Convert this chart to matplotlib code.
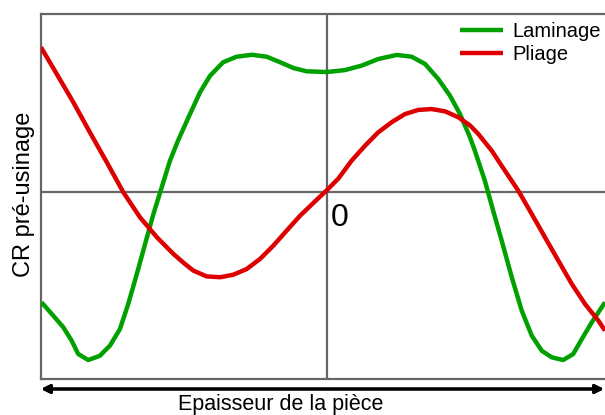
"""Sketch of residual stress (CR pre-usinage) across the part thickness."""

import matplotlib.pyplot as plt

plt.rcParams["font.family"] = ["Liberation Sans", "DejaVu Sans"]

# normalised thickness (-1 .. 1) and normalised stress
laminage_x = [-0.998, -0.957, -0.922, -0.893, -0.870, -0.835, -0.794, -0.759,
              -0.724, -0.695, -0.665, -0.636, -0.607, -0.578, -0.549, -0.520,
              -0.479, -0.444, -0.409, -0.363, -0.316, -0.263, -0.211, -0.164,
              -0.118, -0.071, 0.000, 0.063, 0.121, 0.179, 0.244, 0.296,
              0.343, 0.389, 0.430, 0.465, 0.500, 0.517, 0.552, 0.581,
              0.611, 0.646, 0.681, 0.716, 0.751, 0.786, 0.826, 0.861,
              0.891, 0.926, 0.972]
laminage_y = [-0.620, -0.695, -0.760, -0.835, -0.910, -0.944, -0.920, -0.863,
              -0.770, -0.629, -0.461, -0.292, -0.124, 0.026, 0.176, 0.292,
              0.438, 0.560, 0.653, 0.729, 0.760, 0.771, 0.760, 0.729,
              0.697, 0.678, 0.674, 0.685, 0.710, 0.747, 0.770, 0.760,
              0.719, 0.635, 0.541, 0.438, 0.307, 0.232, 0.063, -0.105,
              -0.274, -0.479, -0.667, -0.807, -0.892, -0.929, -0.944, -0.910,
              -0.826, -0.732, -0.620]

pliage_x = [-1.000, -0.945, -0.887, -0.829, -0.770, -0.712, -0.654, -0.595,
            -0.537, -0.497, -0.467, -0.421, -0.374, -0.328, -0.281, -0.234,
            -0.188, -0.141, -0.094, -0.048, 0.000, 0.040, 0.086, 0.133,
            0.179, 0.226, 0.273, 0.319, 0.366, 0.413, 0.459, 0.500,
            0.529, 0.576, 0.622, 0.669, 0.716, 0.762, 0.809, 0.856,
            0.902, 0.949, 0.972]
pliage_y = [0.813, 0.663, 0.504, 0.335, 0.167, -0.002, -0.142, -0.254,
            -0.348, -0.404, -0.442, -0.474, -0.479, -0.465, -0.433, -0.376,
            -0.302, -0.217, -0.133, -0.062, 0.011, 0.076, 0.176, 0.260,
            0.335, 0.392, 0.438, 0.461, 0.466, 0.453, 0.420, 0.374,
            0.326, 0.232, 0.120, 0.007, -0.124, -0.254, -0.386, -0.517,
            -0.629, -0.723, -0.779]

series_labels = ["Laminage", "Pliage"]
series_colors = ["#00a000", "#dd0000"]

W, H = 605, 415
fig = plt.figure(figsize=(W / 100, H / 100), dpi=100)
# the plotting box runs past the right edge of the picture, as in the original
ax = fig.add_axes([41 / W, (H - 379) / H, (613 - 41) / W, (379 - 14) / H])
ax.set_xlim(-1, 1)
ax.set_ylim(-1.0506, 1.0)

ax.axhline(0, color="#666666", lw=1.6, zorder=1)
ax.axvline(0, color="#666666", lw=1.6, zorder=1)

for xs, ys, lab, col in zip([laminage_x, pliage_x], [laminage_y, pliage_y],
                            series_labels, series_colors):
    ax.plot(xs, ys, color=col, lw=3.2, label=lab, solid_joinstyle="round",
            solid_capstyle="butt", zorder=3)

for side in ["left", "top", "bottom"]:
    ax.spines[side].set_color("#666666")
    ax.spines[side].set_linewidth(1.6)
ax.spines["right"].set_visible(False)
ax.set_xticks([])
ax.set_yticks([])

ax.text(0.012, -0.06, "0", fontsize=23, ha="left", va="top", zorder=4)

ax.legend(loc="upper left", bbox_to_anchor=(460 / W, 1 - 22 / H),
          bbox_transform=fig.transFigure, frameon=False, fontsize=14.5,
          handlelength=2.15, handletextpad=0.45, borderpad=0, borderaxespad=0,
          labelspacing=0.2)

# double-headed arrow under the axis
fig.add_artist(plt.annotate(
    "", xy=(604 / W, 1 - 389 / H), xytext=(41 / W, 1 - 389 / H),
    xycoords=fig.transFigure, textcoords=fig.transFigure,
    arrowprops=dict(arrowstyle="<|-|>,head_length=0.5,head_width=0.25",
                    color="black", lw=2.2, shrinkA=0, shrinkB=0)))

fig.text(281 / W, 1 - 410 / H, "Epaisseur de la pièce", fontsize=15.5,
         ha="center", va="baseline")
fig.text(24 / W, 1 - 194 / H, "CR pré-usinage", fontsize=17, rotation=90,
         ha="center", va="center")

fig.savefig("out.png", dpi=100)
